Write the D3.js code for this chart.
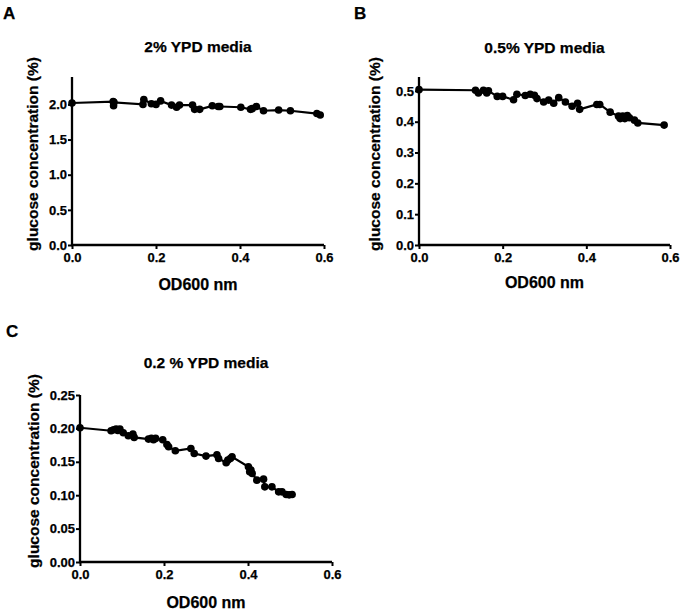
<!DOCTYPE html>
<html>
<head>
<meta charset="utf-8">
<script src="https://cdn.jsdelivr.net/npm/d3@7"></script>
<style>
  html, body { margin: 0; padding: 0; background: #fff; }
  svg { display: block; }
  text { font-family: "Liberation Sans", Arial, sans-serif; font-weight: bold; fill: #000; stroke: #000; stroke-width: 0.25px; }
</style>
</head>
<body>
<svg id="chart" width="682" height="612"></svg>
<script>
// ---- Data ----
const panelLetters = ["A", "B", "C"];
const panelTitles = ["2% YPD media", "0.5% YPD media", "0.2 % YPD media"];
const xTitle = "OD600 nm";
const yTitle = "glucose concentration (%)";

const xTicks = [0, 0.2, 0.4, 0.6];
const aYTicks = [0, 0.5, 1.0, 1.5, 2.0];
const bYTicks = [0, 0.1, 0.2, 0.3, 0.4, 0.5];
const cYTicks = [0, 0.05, 0.10, 0.15, 0.20, 0.25];

const aOD = [0, 0.098, 0.099, 0.100, 0.169, 0.171, 0.189, 0.200, 0.211, 0.237, 0.249, 0.256, 0.287, 0.292, 0.304, 0.334, 0.348, 0.352, 0.402, 0.425, 0.429, 0.439, 0.456, 0.492, 0.520, 0.583, 0.591];
const aGlucose = [2.02, 2.04, 1.98, 2.03, 2.00, 2.07, 2.01, 2.00, 2.05, 1.99, 1.96, 1.99, 1.99, 1.93, 1.93, 1.98, 1.97, 1.97, 1.96, 1.93, 1.94, 1.97, 1.91, 1.92, 1.91, 1.87, 1.85];

const bOD = [0, 0.135, 0.142, 0.154, 0.162, 0.166, 0.187, 0.200, 0.226, 0.234, 0.254, 0.266, 0.276, 0.282, 0.298, 0.310, 0.322, 0.334, 0.350, 0.366, 0.379, 0.384, 0.425, 0.432, 0.457, 0.477, 0.481, 0.487, 0.492, 0.498, 0.503, 0.515, 0.523, 0.586];
const bGlucose = [0.504, 0.502, 0.493, 0.502, 0.493, 0.500, 0.482, 0.482, 0.471, 0.489, 0.485, 0.489, 0.486, 0.475, 0.464, 0.470, 0.460, 0.478, 0.464, 0.450, 0.460, 0.440, 0.456, 0.456, 0.431, 0.418, 0.410, 0.418, 0.410, 0.420, 0.413, 0.405, 0.396, 0.389];

const cOD = [0, 0.074, 0.080, 0.086, 0.090, 0.095, 0.103, 0.115, 0.126, 0.129, 0.163, 0.170, 0.175, 0.180, 0.197, 0.207, 0.211, 0.227, 0.264, 0.272, 0.300, 0.326, 0.330, 0.348, 0.352, 0.358, 0.362, 0.401, 0.404, 0.407, 0.410, 0.421, 0.437, 0.440, 0.457, 0.473, 0.481, 0.491, 0.498, 0.505];
const cGlucose = [0.201, 0.1965, 0.198, 0.199, 0.197, 0.199, 0.1935, 0.189, 0.1915, 0.1865, 0.184, 0.185, 0.183, 0.185, 0.183, 0.176, 0.1725, 0.1665, 0.170, 0.1625, 0.1585, 0.1605, 0.155, 0.1485, 0.1525, 0.155, 0.1575, 0.1425, 0.135, 0.1375, 0.1325, 0.1225, 0.124, 0.1125, 0.1125, 0.105, 0.105, 0.101, 0.1005, 0.101];

// ---- Layout (positions only) ----
const panels = [
  { letter: panelLetters[0], title: panelTitles[0], xs: aOD, ys: aGlucose, yTicks: aYTicks, yMax: 2.39, yFmt: d3.format(".1f"),
    x0: 72, x1: 324, yBottom: 245, yTop: 77, letterPos: [3, 19], titleY: 52, xTitleY: 290, yTitleX: 38, yTitleY: 154 },
  { letter: panelLetters[1], title: panelTitles[1], xs: bOD, ys: bGlucose, yTicks: bYTicks, yMax: 0.545, yFmt: d3.format(".1f"),
    x0: 419, x1: 670, yBottom: 245, yTop: 77, letterPos: [354, 19], titleY: 53, xTitleY: 288, yTitleX: 380, yTitleY: 154 },
  { letter: panelLetters[2], title: panelTitles[2], xs: cOD, ys: cGlucose, yTicks: cYTicks, yMax: 0.25, yFmt: d3.format(".2f"),
    x0: 80, x1: 332, yBottom: 562, yTop: 395, letterPos: [6, 337], titleY: 368, xTitleY: 608, yTitleX: 39, yTitleY: 471 }
];

const svg = d3.select("#chart");

panels.forEach(p => {
  const g = svg.append("g");
  const x = d3.scaleLinear().domain([0, 0.6]).range([p.x0, p.x1]);
  const y = d3.scaleLinear().domain([0, p.yMax]).range([p.yBottom, p.yTop]);

  // Panel letter
  g.append("text").attr("x", p.letterPos[0]).attr("y", p.letterPos[1])
    .style("font-size", "17px").text(p.letter);

  // Title
  g.append("text").attr("x", (p.x0 + p.x1) / 2).attr("y", p.titleY)
    .attr("text-anchor", "middle").style("font-size", "15.5px").text(p.title);

  // X axis
  const xAxis = g.append("g").attr("transform", `translate(0,${p.yBottom})`)
    .call(d3.axisBottom(x).tickValues(xTicks).tickFormat(d3.format(".1f")).tickSize(4).tickSizeOuter(0).tickPadding(4));
  // Y axis
  const yAxis = g.append("g").attr("transform", `translate(${p.x0},0)`)
    .call(d3.axisLeft(y).tickValues(p.yTicks).tickFormat(p.yFmt).tickSize(4).tickSizeOuter(0).tickPadding(1));

  [xAxis, yAxis].forEach(ax => {
    ax.select(".domain").attr("stroke", "#000").attr("stroke-width", 2.3);
    ax.selectAll(".tick line").attr("stroke", "#000").attr("stroke-width", 2);
    ax.selectAll(".tick text").style("font-size", "13px")
      .style("font-family", '"Liberation Sans", Arial, sans-serif').style("font-weight", "bold")
      .attr("fill", "#000").attr("stroke", "#000").attr("stroke-width", 0.25);
  });
  yAxis.select(".domain").attr("d", `M0,${p.yBottom + 1}V${p.yTop}`);
  xAxis.select(".domain").attr("d", `M${p.x0 - 1},0H${p.x1}`);

  // Axis titles
  g.append("text").attr("x", (p.x0 + p.x1) / 2).attr("y", p.xTitleY)
    .attr("text-anchor", "middle").style("font-size", "16px").text(xTitle);
  g.append("text").attr("transform", `translate(${p.yTitleX},${p.yTitleY}) rotate(-90)`)
    .attr("text-anchor", "middle").style("font-size", "15.5px").text(yTitle);

  // Data
  const pts = p.xs.map((v, i) => [v, p.ys[i]]);
  g.append("path").datum(pts)
    .attr("fill", "none").attr("stroke", "#000").attr("stroke-width", 2.2)
    .attr("d", d3.line().x(d => x(d[0])).y(d => y(d[1])));
  g.selectAll("circle.pt").data(pts).enter().append("circle")
    .attr("class", "pt")
    .attr("cx", d => x(d[0])).attr("cy", d => y(d[1])).attr("r", 3.8).attr("fill", "#000");
});
</script>
</body>
</html>
